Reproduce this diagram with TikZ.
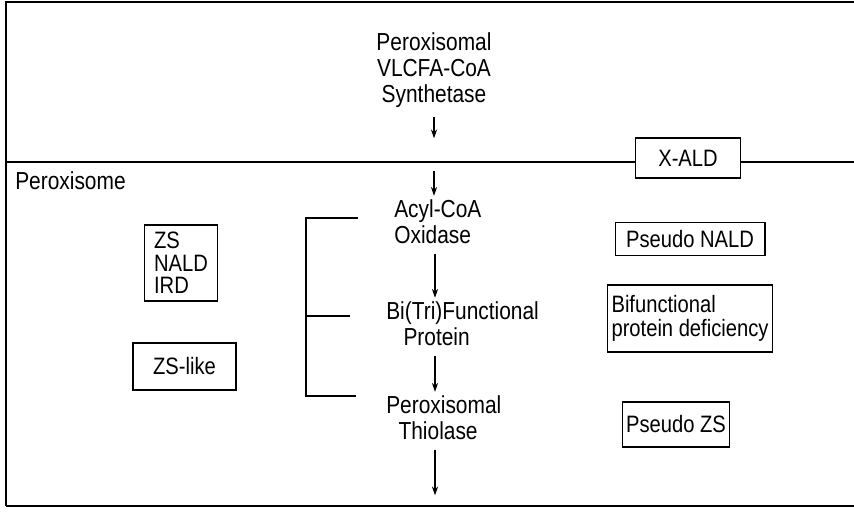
\documentclass[tikz,border=0pt]{standalone}
\usepackage{fontspec}
\setmainfont{Liberation Sans}[FakeStretch=0.85]
\usepackage{tikz}
\usetikzlibrary{arrows.meta}
\tikzstyle{enzyme} = [font=\fontsize{14}{15}\selectfont, align=left, inner sep=1pt]
\tikzstyle{disease} = [rectangle, sharp corners, draw, font=\fontsize{13.5}{13.3}\selectfont,
                     align=center, inner sep=2pt]

\begin{document}
\begin{tikzpicture}[x=0.02cm, y=-0.02cm, line width=0.6pt,
flow/.style={-{Stealth[length=5pt,width=3.5pt]}, shorten <=4pt, shorten >=1pt}]
\useasboundingbox (0,0) rectangle (854,513);
%Frame
\draw (6,506) -- (6,2) -- (854,2);
\draw (6,506) -- (854,506);

%Synthetase (cytosol side)
\node[enzyme, align=center] at (434,70) (synth){Peroxisomal\\VLCFA-CoA\\Synthetase};

%Membrane
\node[disease, minimum width=2.1cm, minimum height=0.8cm] at (688,158) (xald){X-ALD};
\coordinate (mleft) at (6,162);
\draw (mleft) -- (mleft -| xald.west);
\draw (xald.east |- mleft) -- (854,162);
\node[enzyme, anchor=west] at (13,181) (perox){Peroxisome};

%Beta-oxidation steps
\node[enzyme, anchor=west] at (392,222) (acyl){Acyl-CoA\\Oxidase};
\node[enzyme, anchor=west] at (384,324) (bifunc){Bi(Tri)Functional\\\hspace*{0.7em}Protein};
\node[enzyme, anchor=west] at (384,418) (thiol){Peroxisomal\\\hspace*{0.5em}Thiolase};

\coordinate (cyto) at (434,140);
\coordinate (lumen) at (434,171);
\coordinate (exit) at (435,497);
\draw[flow] (synth.south) -- (cyto);
\draw[flow, shorten <=0pt] (lumen) -- (lumen |- acyl.north);
\draw[flow] (acyl.south -| exit) -- (bifunc.north -| exit);
\draw[flow] (bifunc.south -| exit) -- (thiol.north -| exit);
\draw[flow] (thiol.south -| exit) -- (exit);

%Bracket
\draw (358,218) -- (306,218) -- (306,396) -- (356,396);
\draw (306,316) -- (350,316);

%Disorders
\node[disease, align=left, font=\fontsize{13.5}{12.8}\selectfont, minimum width=1.46cm, minimum height=1.52cm] at (181,263) (zs){ZS\\NALD\\IRD};
\node[disease, minimum width=2.06cm, minimum height=0.94cm] at (184.5,366.5) (zslike){ZS-like};
\node[disease, minimum width=3.0cm, minimum height=0.66cm] at (690,239) (pnald){Pseudo NALD};
\node[disease, align=left, minimum width=3.3cm, minimum height=1.34cm] at (690,318.5) (bif){Bifunctional\\protein deficiency};
\node[disease, minimum width=2cm, minimum height=0.9cm] at (676,424.5) (pzs){Pseudo ZS};
\end{tikzpicture}
\end{document}
